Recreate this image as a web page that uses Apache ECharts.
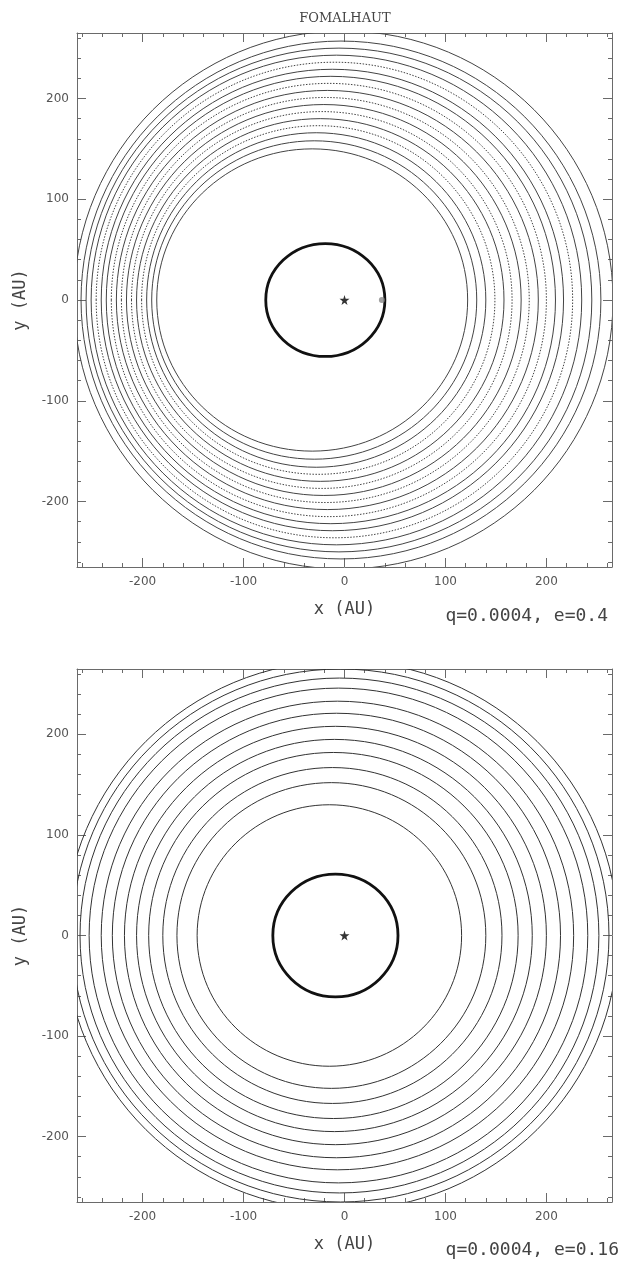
<!DOCTYPE html>
<html>
<head>
<meta charset="utf-8">
<title>Fomalhaut</title>
<script src="https://cdn.jsdelivr.net/npm/echarts@6.0.0/dist/echarts.min.js"></script>
<style>
  html, body { margin: 0; padding: 0; background: #fff; }
  #chart { width: 622px; height: 1262px; }
</style>
</head>
<body>
<div id="chart"></div>
<script>
// axis range and ticks (AU)
const axisMin = -265;
const axisMax = 265;
const majorTicks = [-200, -100, 0, 100, 200];
const minorTicks = [-260, -240, -220, -180, -160, -140, -120, -80, -60, -40, -20,
  20, 40, 60, 80, 120, 140, 160, 180, 220, 240, 260];

// top panel (q=0.0004, e=0.4): ring centres and half axes, inner -> outer
const topRingCenter = [-32, -30, -28, -26, -24, -22.5, -20.5, -19, -17, -15.5, -13.5, -12, -10, -8, -5.5, -3.5, -1];
const topRingRx = [154, 161, 168, 175, 182, 188.5, 195.5, 202, 209, 215.5, 222.5, 229, 236, 243, 250.5, 257.5, 267];
const topRingRy = [150, 158, 166, 173, 180, 187, 194, 201, 208, 215, 222, 229, 236, 243, 250, 257, 267];
const topDottedRings = [3, 5, 7, 9, 12];
const topOrbitCenter = [-19];
const topOrbitRx = [59];
const topOrbitRy = [56];
const topPlanet = [[37, 0]];

// bottom panel (q=0.0004, e=0.16)
const botRingCenter = [-15, -13, -12, -11, -10, -9, -8, -7, -6, -5, -4, -3];
const botRingRx = [131, 153, 168, 183, 196, 209, 222, 234, 247, 257, 266, 274];
const botRingRy = [130, 152, 167, 182, 195, 208, 221, 233, 246, 256, 265, 273];
const botDottedRings = [];
const botOrbitCenter = [-9];
const botOrbitRx = [62];
const botOrbitRy = [61];

const star = [[0, 0]];

const frameColor = '#6a6a6a';
const textColor = '#444';
const starPath = 'path://M50,0 L61,35 L98,35 L68,57 L79,91 L50,70 L21,91 L32,57 L2,35 L39,35 Z';

function axisSet(dim, gi, name) {
  const isX = dim === 'x';
  const base = {
    gridIndex: gi,
    type: 'value',
    min: axisMin,
    max: axisMax,
    splitLine: { show: false }
  };
  const lineOn = { show: true, onZero: false, lineStyle: { color: frameColor, width: 1 } };
  const lineOff = { show: false, onZero: false };
  const major = { inside: true, length: 9, customValues: majorTicks, lineStyle: { color: frameColor } };
  const minor = { inside: true, length: 4, customValues: minorTicks, lineStyle: { color: frameColor } };
  const noLabel = { show: false };
  return [
    Object.assign({}, base, {
      position: isX ? 'bottom' : 'left',
      name: name,
      nameLocation: 'middle',
      nameGap: isX ? 34 : 48,
      nameTextStyle: { fontFamily: 'DejaVu Sans Mono', fontSize: 17, color: textColor },
      axisLine: lineOn,
      axisTick: major,
      axisLabel: {
        customValues: majorTicks,
        margin: isX ? 9 : 8,
        fontFamily: 'DejaVu Sans',
        fontSize: 12,
        color: '#555'
      }
    }),
    Object.assign({}, base, { position: isX ? 'bottom' : 'left', axisLine: lineOff, axisTick: minor, axisLabel: noLabel }),
    Object.assign({}, base, { position: isX ? 'top' : 'right', axisLine: lineOn, axisTick: major, axisLabel: noLabel }),
    Object.assign({}, base, { position: isX ? 'top' : 'right', axisLine: lineOff, axisTick: minor, axisLabel: noLabel })
  ];
}

function ellipseSeries(gi, centers, rx, ry, dotted, color, width) {
  return {
    type: 'custom',
    xAxisIndex: gi * 4,
    yAxisIndex: gi * 4,
    clip: true,
    silent: true,
    data: centers.map((c, i) => [c, rx[i], ry[i]]),
    renderItem(params, api) {
      const p = api.coord([api.value(0), 0]);
      const s = api.size([api.value(1), api.value(2)]);
      return {
        type: 'ellipse',
        shape: { cx: p[0], cy: p[1], rx: s[0], ry: s[1] },
        style: {
          fill: 'none',
          stroke: color,
          lineWidth: width,
          lineDash: dotted.indexOf(params.dataIndex) >= 0 ? [1.5, 1.5] : null
        }
      };
    }
  };
}

function starSeries(gi) {
  return {
    type: 'scatter',
    xAxisIndex: gi * 4,
    yAxisIndex: gi * 4,
    silent: true,
    symbol: starPath,
    symbolSize: 10,
    itemStyle: { color: '#000' },
    data: star
  };
}

const chart = echarts.init(document.getElementById('chart'), null, { renderer: 'canvas' });
chart.setOption({
  backgroundColor: '#fff',
  animation: false,
  grid: [
    { left: 77, top: 33, width: 535, height: 534, outerBoundsMode: 'none' },
    { left: 77, top: 669, width: 535, height: 533, outerBoundsMode: 'none' }
  ],
  xAxis: axisSet('x', 0, 'x (AU)').concat(axisSet('x', 1, 'x (AU)')),
  yAxis: axisSet('y', 0, 'y (AU)').concat(axisSet('y', 1, 'y (AU)')),
  graphic: [
    {
      type: 'text', style: {
        x: 345, y: 19, text: 'FOMALHAUT', textAlign: 'center', textVerticalAlign: 'middle',
        font: '13px "DejaVu Serif"', fill: textColor
      }
    },
    {
      type: 'text', style: {
        x: 608, y: 616, text: 'q=0.0004, e=0.4', textAlign: 'right', textVerticalAlign: 'middle',
        font: '18px "DejaVu Sans Mono"', fill: textColor
      }
    },
    {
      type: 'text', style: {
        x: 619, y: 1250, text: 'q=0.0004, e=0.16', textAlign: 'right', textVerticalAlign: 'middle',
        font: '18px "DejaVu Sans Mono"', fill: textColor
      }
    }
  ],
  series: [
    ellipseSeries(0, topRingCenter, topRingRx, topRingRy, topDottedRings, '#444', 1),
    ellipseSeries(0, topOrbitCenter, topOrbitRx, topOrbitRy, [], '#111', 2.8),
    {
      type: 'scatter',
      xAxisIndex: 0,
      yAxisIndex: 0,
      silent: true,
      symbol: 'circle',
      symbolSize: 6,
      itemStyle: { color: '#888' },
      data: topPlanet
    },
    starSeries(0),
    ellipseSeries(1, botRingCenter, botRingRx, botRingRy, botDottedRings, '#333', 1),
    ellipseSeries(1, botOrbitCenter, botOrbitRx, botOrbitRy, [], '#111', 2.8),
    starSeries(1)
  ]
});
</script>
</body>
</html>
